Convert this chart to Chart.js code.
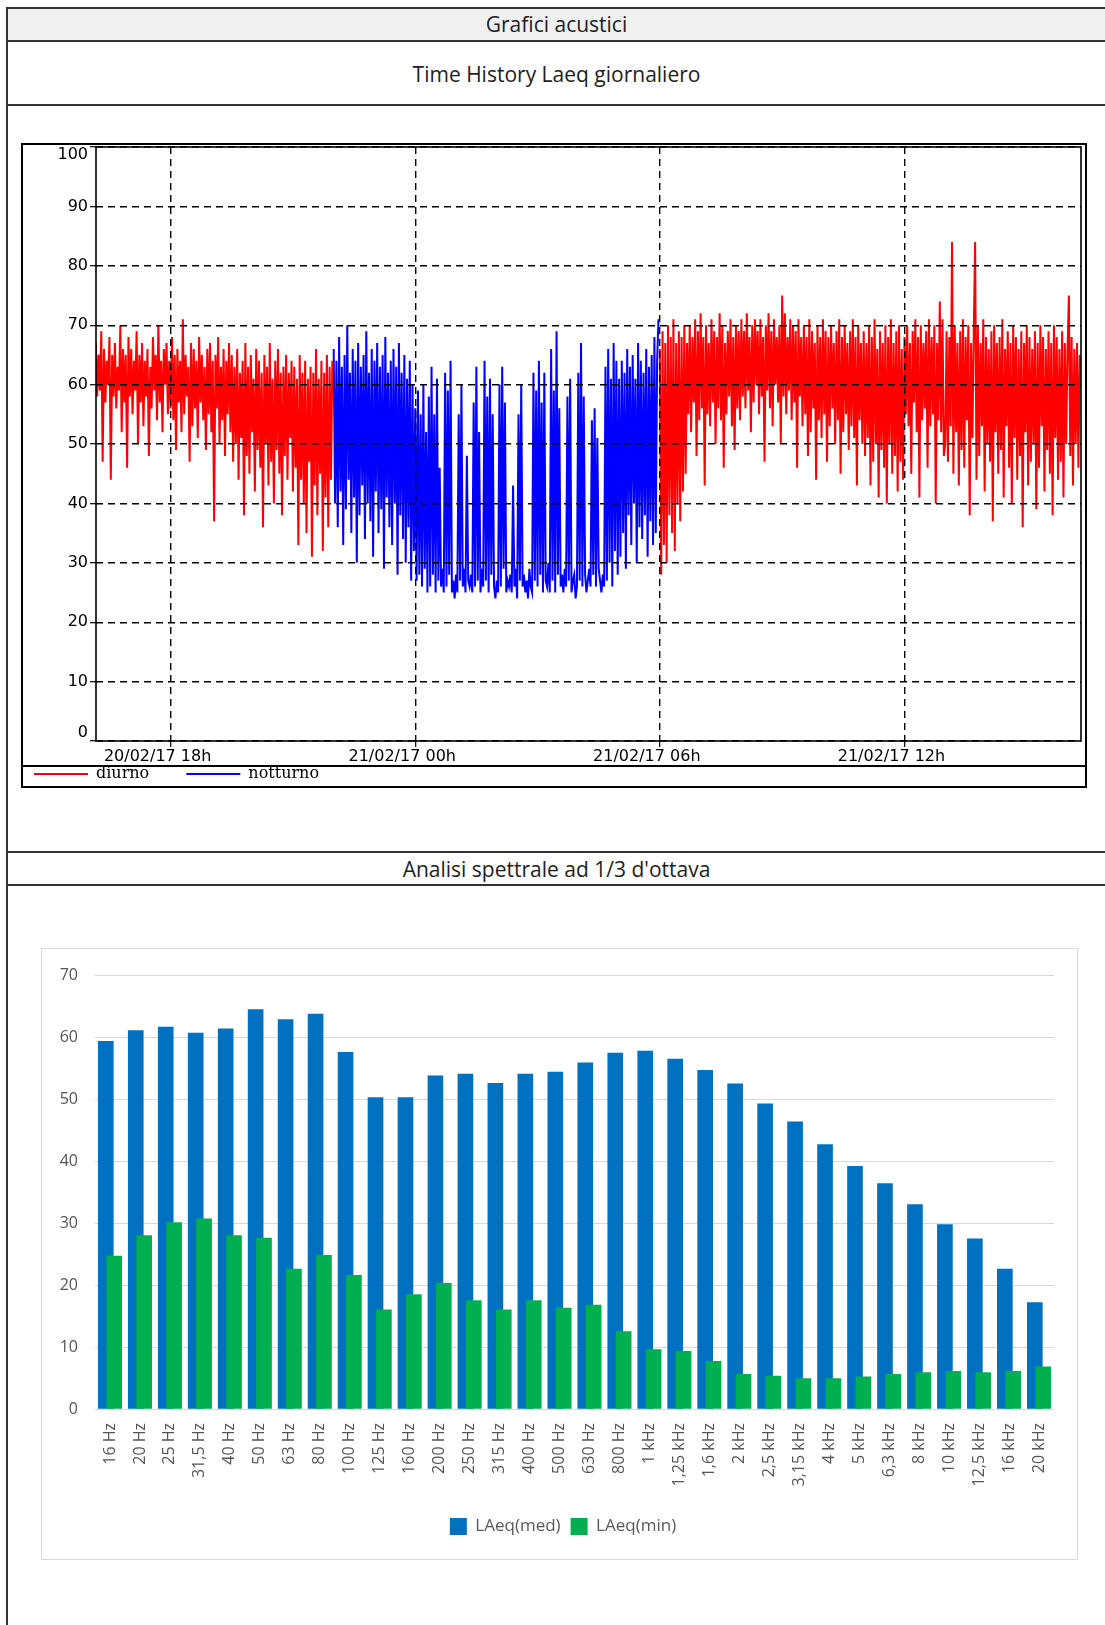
<!DOCTYPE html>
<html lang="it">
<head>
<meta charset="UTF-8">
<title>Grafici acustici</title>
<script src="https://cdn.jsdelivr.net/npm/chart.js"></script>
<style>
  body { margin: 0; background: #fff; }
  #page { position: relative; width: 1105px; height: 1625px; overflow: hidden; font-family: "Open Sans", sans-serif; }
  #band { position: absolute; left: 8px; right: 0; top: 9px; height: 31px; background: #f0f0f0; }
  .hl { position: absolute; left: 6px; right: 0; height: 2px; background: #333; }
  .vl { position: absolute; left: 6px; top: 7px; bottom: 0; width: 2px; background: #333; }
  .cap { position: absolute; left: 8px; right: 0; text-align: center; color: #1e1e1e; line-height: 28px; font-size: 21px; }
  #timeChart { position: absolute; left: 21px; top: 120px; }
  #specBox { position: absolute; left: 41px; top: 948px; width: 1035px; height: 610px; border: 1px solid #d9d9d9; }
</style>
</head>
<body>
<div id="page">
  <div id="band"></div>
  <div class="hl" style="top:7px"></div>
  <div class="hl" style="top:40px"></div>
  <div class="hl" style="top:104px"></div>
  <div class="hl" style="top:851px"></div>
  <div class="hl" style="top:884px"></div>
  <div class="vl"></div>
  <div class="cap" style="top:10px">Grafici acustici</div>
  <div class="cap" style="top:60px">Time History Laeq giornaliero</div>
  <div class="cap" style="top:855px">Analisi spettrale ad 1/3 d'ottava</div>

  <canvas id="timeChart" width="1066" height="668"></canvas>
  <div id="specBox"><canvas id="specChart" width="1035" height="610"></canvas></div>
</div>

<script>
// --- Time history: livelli Leq ogni 2 minuti (dB) ---
// diurno 20/02 16:10 -> 22:00
const seraLevels = [
  67,58,65,59,69,47,66,57,64,60,68,44,65,58,67,56,63,59,70,52,66,57,65,46,68,
  58,66,55,64,59,69,50,65,57,67,53,64,58,66,48,63,56,68,59,65,54,70,57,64,52,66,60,67,55,64,
  56,68,54,65,49,66,57,64,52,71,55,65,58,63,47,67,53,66,56,64,51,68,57,65,54,63,49,66,55,67,52,64,37,65,56,68,50,63,54,66,48,64,55,67,52,
  65,47,63,50,66,44,62,51,64,38,67,48,63,45,65,52,61,42,66,49,64,46,62,36,65,50,63,43,67,47,61,40,64,49,66,45,62,38,63,48,65,44,62,51,64,
  42,63,46,61,33,65,44,62,40,64,35,61,47,63,31,62,43,66,38,61,45,64,32,62,41,65,36,63,44,64
];
// notturno 22:00 -> 06:00
const notteLevels = [
  66,40,64,36,68,42,63,33,65,39,70,44,62,35,66,41,64,30,67,38,63,43,65,34,69,40,62,37,66,31,
  64,42,67,35,63,39,65,29,68,41,62,36,64,33,66,40,63,28,67,38,62,34,65,30,61,36,64,27,60,32,
  56,27,59,28,55,26,60,29,52,25,
  58,26,63,28,55,25,61,27,46,26,29,25,62,26,59,28,64,25,27,24,
  28,25,55,27,60,26,29,25,48,27,26,28,25,57,26,63,27,52,25,29,
  26,64,27,58,25,61,28,55,26,24,27,25,60,26,63,29,57,25,27,26,
  28,25,43,26,29,24,55,27,60,26,28,25,27,24,29,26,25,62,27,59,
  26,64,28,57,25,62,27,26,30,25,66,27,59,25,69,28,56,26,28,25,
  29,26,58,27,61,25,27,28,24,26,62,27,67,26,58,28,25,27,29,26,
  54,28,56,26,51,29,27,25,28,26,63,27,66,30,61,26,67,32,64,28,
  61,31,64,35,62,29,66,38,63,33,65,40,61,30,67,36,64,34,62,38,66,31,63,37,65,33,68,35,64,71
];
// diurno 21/02 06:00 -> 16:20
const mattinaLevels = [
  66,28,69,33,67,30,70,38,68,35,71,32,67,40,69,37,68,42,70,45,
  67,55,70,52,68,57,71,48,69,54,72,56,68,43,70,55,67,53,71,57,69,50,68,56,72,54,70,46,67,55,69,58,71,53,68,49,70,56,69,54,
  71,58,69,56,72,59,68,52,70,57,71,60,69,55,71,58,68,47,70,59,72,56,69,53,71,60,68,57,70,50,75,58,72,55,68,59,71,54,70,57,69,46,71,58,68,
  53,70,55,68,48,71,52,69,56,67,44,70,54,68,51,71,55,69,47,68,53,70,56,67,50,69,54,71,45,68,52,70,55,67,49,69,53,71,51,68,43,70,54,67,50,
  69,48,67,51,70,43,68,47,71,50,66,41,69,49,67,46,70,40,68,50,71,45,67,48,69,42,70,47,66,44,
  68,55,70,53,67,45,69,57,71,52,68,41,70,54,67,56,69,46,71,53,68,55,70,40,67,54,74,52,71,48,
  50,69,47,68,53,84,45,70,52,67,43,69,49,71,46,68,54,70,38,67,51,69,84,44,70,48,67,53,71,42,
  68,50,66,47,69,37,70,52,67,45,68,49,71,41,66,53,69,46,67,40,70,51,68,44,66,48,69,36,67,52,
  70,43,68,47,66,50,69,39,67,46,70,53,68,42,66,49,69,45,67,38,70,51,68,44,66,47,69,41,67,50,
  66,75,48,68,43,66,50,67,46,65
];
const xTickHours = [18, 24, 30, 36];
const xTickLabels = ['20/02/17 18h', '21/02/17 00h', '21/02/17 06h', '21/02/17 12h'];
const X_MIN = 16.17, X_MAX = 40.33;   // ore dalle 00:00 del 20/02
const STEP = 2 / 60;
const NIGHT_START = 22, NIGHT_END = 30;

// --- Spettro 1/3 d'ottava ---
const freqLabels = ['16 Hz','20 Hz','25 Hz','31,5 Hz','40 Hz','50 Hz','63 Hz','80 Hz','100 Hz','125 Hz','160 Hz',
  '200 Hz','250 Hz','315 Hz','400 Hz','500 Hz','630 Hz','800 Hz','1 kHz','1,25 kHz','1,6 kHz','2 kHz','2,5 kHz',
  '3,15 kHz','4 kHz','5 kHz','6,3 kHz','8 kHz','10 kHz','12,5 kHz','16 kHz','20 kHz'];
const laeqMed = [59.4,61.1,61.7,60.7,61.4,64.5,62.9,63.8,57.6,50.3,50.3,53.8,54.1,52.6,54.1,54.4,
  55.9,57.5,57.8,56.5,54.7,52.5,49.3,46.4,42.7,39.2,36.4,33.0,29.8,27.5,22.6,17.2];
const laeqMin = [24.7,28.0,30.1,30.7,28.0,27.6,22.6,24.8,21.6,16.0,18.5,20.3,17.5,16.0,17.5,16.3,
  16.8,12.5,9.6,9.3,7.7,5.6,5.3,4.9,4.9,5.2,5.6,5.9,6.1,5.9,6.1,6.8];
const BAR_SHIFT = 0.14;

function toPoints(levels, start) {
  return levels.map((y, i) => ({ x: start + i * STEP, y: y }));
}
const diurnoPts = toPoints(seraLevels, NIGHT_START - seraLevels.length * STEP)
  .concat([{ x: NIGHT_START, y: null }], toPoints(mattinaLevels, NIGHT_END));
const notturnoPts = toPoints(notteLevels, NIGHT_START);

// cornici del grafico time history + legenda alta 21px
const framePlugin = {
  id: 'frame',
  beforeLayout(chart) {
    const lg = chart.legend;
    if (lg && !lg._fixedHeight) {
      const fit = lg.fit;
      lg.fit = function () { fit.call(this); this.height = 21; };
      lg._fixedHeight = true;
    }
  },
  afterDraw(chart) {
    const ctx = chart.ctx, a = chart.chartArea, lg = chart.legend;
    ctx.save();
    ctx.strokeStyle = '#000';
    ctx.lineWidth = 1.6;
    ctx.strokeRect(a.left, a.top, a.right - a.left, a.bottom - a.top);
    ctx.lineWidth = 2;
    ctx.strokeRect(1, 24, chart.width - 2, chart.height - 25);
    ctx.strokeRect(1, lg.top, chart.width - 2, lg.height);
    ctx.restore();
  }
};

const axisFont = { family: 'DejaVu Sans', size: 16, lineHeight: 1 };

new Chart(document.getElementById('timeChart'), {
  type: 'line',
  data: {
    datasets: [
      { label: 'diurno', data: diurnoPts, borderColor: '#ff0000', borderWidth: 2,
        pointRadius: 0, spanGaps: false, tension: 0 },
      { label: 'notturno', data: notturnoPts, borderColor: '#0000ff', borderWidth: 2,
        pointRadius: 0, spanGaps: false, tension: 0 }
    ]
  },
  options: {
    responsive: false,
    animation: false,
    layout: { padding: { top: 27, right: 6, bottom: 1, left: 13 } },
    plugins: {
      tooltip: { enabled: false },
      legend: {
        position: 'bottom',
        align: 'start',
        labels: {
          usePointStyle: true,
          pointStyle: 'line',
          pointStyleWidth: 54,
          padding: 0,
          color: '#000',
          font: { family: 'DejaVu Serif', size: 16 },
          generateLabels: chart => Chart.defaults.plugins.legend.labels.generateLabels(chart)
            .map(l => Object.assign(l, { lineWidth: 2, text: l.text + '\u2003\u2003 ' }))
        }
      }
    },
    scales: {
      x: {
        type: 'linear',
        min: X_MIN,
        max: X_MAX,
        afterBuildTicks: s => { s.ticks = xTickHours.map(v => ({ value: v })); },
        afterFit: s => { s.height = 25; },
        ticks: {
          font: axisFont, color: '#000', padding: 2, maxRotation: 0, labelOffset: -13,
          callback: v => xTickLabels[xTickHours.indexOf(v)]
        },
        grid: { color: '#000', lineWidth: 1.4, z: 1, tickLength: 6, tickColor: '#000', tickWidth: 1.2, tickBorderDash: [] },
        border: { display: false, dash: [7, 5] }
      },
      y: {
        min: 0,
        max: 100,
        afterFit: s => { s.width = 62; },
        ticks: {
          stepSize: 10, font: axisFont, color: '#000', padding: 2,
          callback: v => v === 100 ? ['', '100'] : (v === 0 ? ['0', ''] : String(v))
        },
        grid: { color: '#000', lineWidth: 1.4, z: 1, tickLength: 6, tickColor: '#000', tickWidth: 1.2, tickBorderDash: [] },
        border: { display: false, dash: [7, 5] }
      }
    }
  },
  plugins: [framePlugin]
});

// legenda dello spettro leggermente spostata a destra, come nell'originale
const legendShift = {
  id: 'legendShift',
  afterLayout(chart) {
    chart.legend.left += 15;
    chart.legend.right += 15;
  }
};

const specFont = { family: 'Open Sans', size: 16 };

new Chart(document.getElementById('specChart'), {
  type: 'bar',
  data: {
    datasets: [
      { label: 'LAeq(med)', data: laeqMed.map((v, i) => ({ x: i - BAR_SHIFT, y: v })),
        backgroundColor: '#0070c0', order: 1 },
      { label: 'LAeq(min)', data: laeqMin.map((v, i) => ({ x: i + BAR_SHIFT, y: v })),
        backgroundColor: '#00b050', order: 0 }
    ]
  },
  options: {
    responsive: false,
    animation: false,
    datasets: { bar: { grouped: false, barThickness: 15 } },
    layout: { padding: { top: 22, right: 23, bottom: 14, left: 0 } },
    plugins: {
      tooltip: { enabled: false },
      legend: {
        position: 'bottom',
        labels: {
          boxWidth: 17, boxHeight: 17, padding: 10, color: '#595959',
          font: { family: 'Open Sans', size: 17 },
          sort: (a, b) => a.datasetIndex - b.datasetIndex
        }
      }
    },
    scales: {
      x: {
        type: 'linear',
        offset: false,
        min: -0.5,
        max: freqLabels.length - 0.5,
        afterBuildTicks: s => { s.ticks = freqLabels.map((_, i) => ({ value: i })); },
        afterFit: s => { s.height = 99; },
        grid: { display: false, drawTicks: false, offset: false },
        border: { display: false },
        ticks: {
          autoSkip: false, maxRotation: 90, minRotation: 90, padding: 14,
          font: specFont, color: '#555',
          callback: v => freqLabels[v]
        }
      },
      y: {
        min: 0,
        max: 70,
        afterFit: s => { s.width = 53; },
        ticks: { stepSize: 10, padding: 17, font: specFont, color: '#555' },
        grid: { color: '#d9d9d9', drawTicks: false },
        border: { display: false }
      }
    }
  },
  plugins: [legendShift]
});
</script>
</body>
</html>
